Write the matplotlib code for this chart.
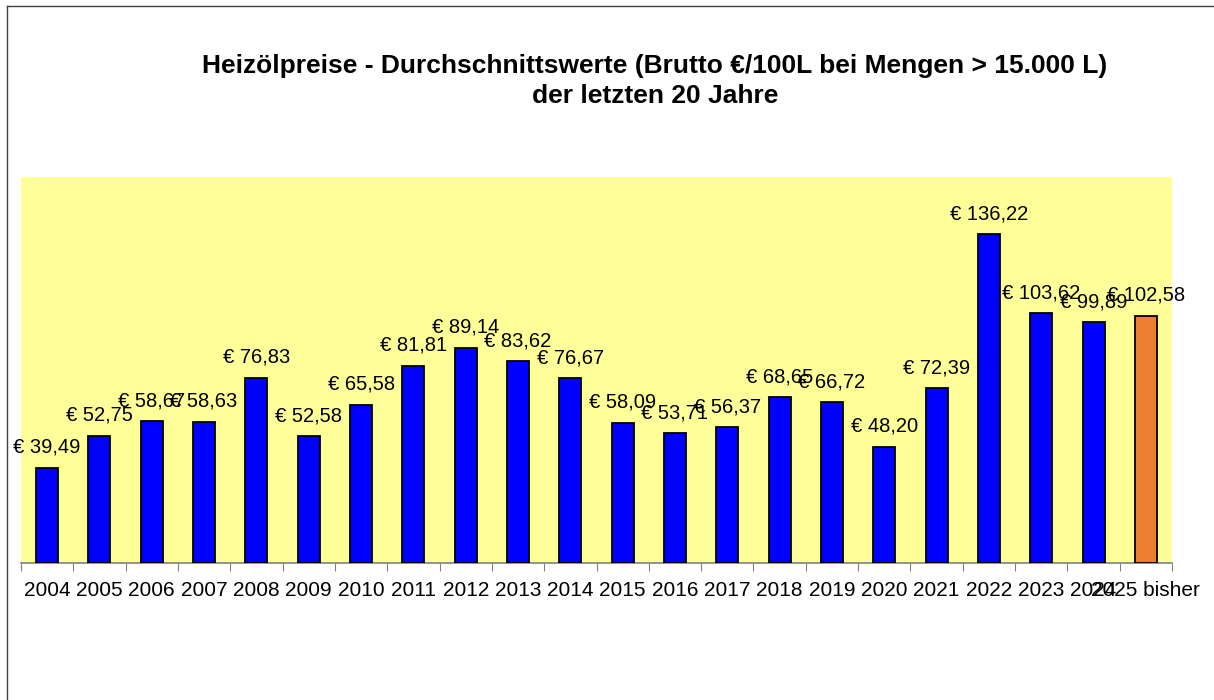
import numpy as np
import matplotlib
matplotlib.use("Agg")
import matplotlib.pyplot as plt
from matplotlib.lines import Line2D

plt.rcParams['font.family'] = ['Liberation Sans', 'DejaVu Sans']

years = ["2004", "2005", "2006", "2007", "2008", "2009", "2010", "2011", "2012", "2013",
         "2014", "2015", "2016", "2017", "2018", "2019", "2020", "2021", "2022", "2023",
         "2024", "2025 bisher"]
prices = [39.49, 52.75, 58.67, 58.63, 76.83, 52.58, 65.58, 81.81, 89.14, 83.62,
          76.67, 58.09, 53.71, 56.37, 68.65, 66.72, 48.20, 72.39, 136.22, 103.62,
          99.89, 102.58]
colors = ['#0000FF'] * (len(years) - 1) + ['#ED7D31']

title = "Heizölpreise - Durchschnittswerte (Brutto €/100L bei Mengen > 15.000 L)\nder letzten 20 Jahre"

fig = plt.figure(figsize=(12.14, 7), dpi=100)
ax = fig.add_axes([21 / 1214, 1 - 563 / 700, (1172 - 21) / 1214, (563 - 177) / 700])
ax.set_facecolor('#FFFF99')

x = np.arange(len(years))
bars = ax.bar(x, prices, width=0.42, color=colors, edgecolor='black', linewidth=1.3, zorder=3)

for xi, val in zip(x, prices):
    label = "€ " + f"{val:.2f}".replace(".", ",")
    ax.annotate(label, (xi, val), xytext=(0, 11), textcoords='offset pixels',
                ha='center', va='bottom', fontsize=14.5, zorder=4)

ax.set_xlim(-0.5, len(years) - 0.5)
ax.set_ylim(0, 160)
ax.set_yticks([])

# ticks at category borders, labels at centers
ax.set_xticks(np.arange(len(years) + 1) - 0.5)
ax.set_xticklabels([])
ax.tick_params(axis='x', which='major', length=6, color='#808080', direction='out')
ax.set_xticks(x, minor=True)
ax.set_xticklabels(years, minor=True, fontsize=15)
ax.tick_params(axis='x', which='minor', length=0, pad=13)

for side in ['top', 'right', 'left']:
    ax.spines[side].set_visible(False)
ax.spines['bottom'].set_color('#808080')
ax.spines['bottom'].set_linewidth(1.2)

fig.text(655 / 1214, 1 - 81 / 700, title, ha='center', va='center',
         fontsize=19, fontweight='bold', linespacing=1.3)

# frame lines (top and left only)
fig.add_artist(Line2D([7 / 1214, 1], [1 - 6 / 700, 1 - 6 / 700], color='#404040', linewidth=1))
fig.add_artist(Line2D([7 / 1214, 7 / 1214], [0, 1 - 6 / 700], color='#404040', linewidth=1))

fig.savefig("out.png", dpi=100)
